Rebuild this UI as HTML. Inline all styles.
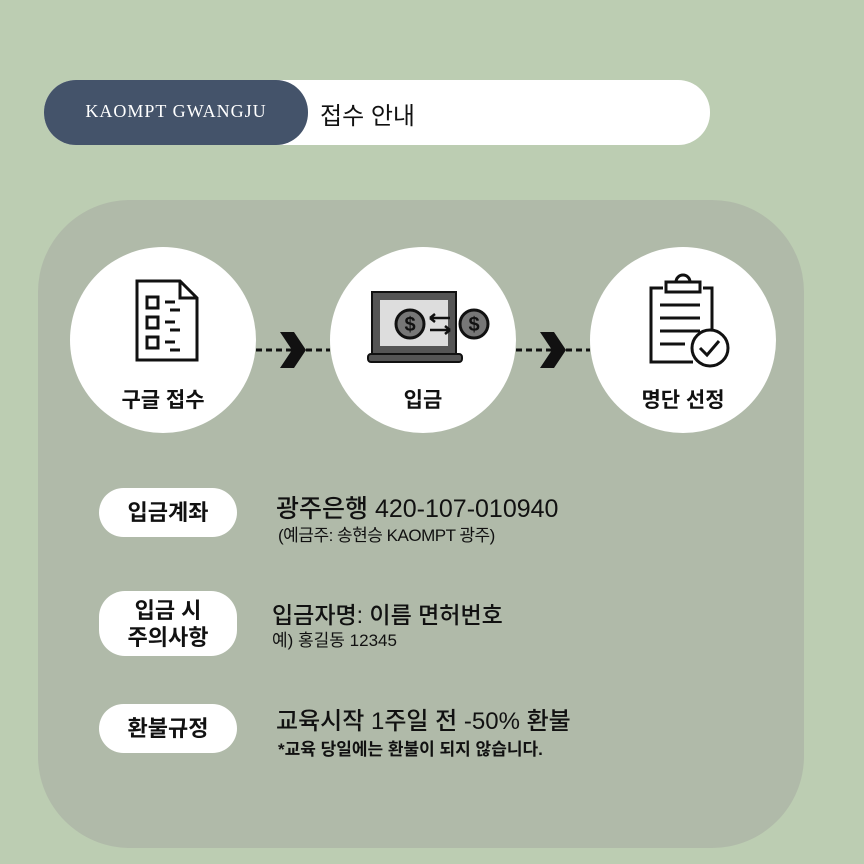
<!DOCTYPE html>
<html><head><meta charset="utf-8"><style>
body{margin:0;width:864px;height:864px;background:#bccdb2;position:relative;overflow:hidden;font-family:"Liberation Sans","Noto Sans CJK KR",sans-serif}
.abs{position:absolute}
.pill{position:absolute;left:99px;width:138px;background:#fff;border-radius:26px;display:flex;align-items:center;justify-content:center;text-align:center;font-size:22px;font-weight:bold;color:#111;line-height:27px}
.circ{position:absolute;width:186px;height:186px;border-radius:50%;background:#fff}
.cl{position:absolute;width:186px;text-align:center;font-size:21px;font-weight:bold;color:#111}
.t1{position:absolute;font-size:23px;color:#111;font-weight:500}
.t2{position:absolute;font-size:17px;color:#111}
</style></head><body>
<div class="abs" style="left:44px;top:80px;width:666px;height:65px;background:#fff;border-radius:32px"></div>
<div class="abs" style="left:44px;top:80px;width:264px;height:65px;background:#44536a;border-radius:32px;color:#fff;font-family:'Liberation Serif',serif;font-size:18px;letter-spacing:1px;line-height:63px;text-align:center">KAOMPT GWANGJU</div>
<div class="abs" style="left:320px;top:96px;font-size:24px;color:#111">접수 안내</div>
<div class="abs" style="left:38px;top:200px;width:766px;height:648px;background:#b0baa9;border-radius:92px"></div>

<div class="circ" style="left:70px;top:247px"></div>
<div class="circ" style="left:330px;top:247px"></div>
<div class="circ" style="left:590px;top:247px"></div>
<svg class="abs" style="left:0;top:0" width="864" height="864">
<g stroke="#111" stroke-width="3" stroke-dasharray="6,4"><line x1="256" y1="350" x2="330" y2="350"/><line x1="516" y1="350" x2="590" y2="350"/></g>
<polygon points="280,332 294,332 306,350 294,368 280,368 292,350" fill="#111"/>
<polygon points="540,332 554,332 566,350 554,368 540,368 552,350" fill="#111"/>
<g fill="none" stroke="#111" stroke-width="3"><path d="M137,281 H180 L197,298 V360 H137 Z"/><path d="M180,281 V298 H197"/>
<rect x="147" y="297" width="11" height="11"/><rect x="147" y="317" width="11" height="11"/><rect x="147" y="337" width="11" height="11"/>
<path d="M165,302h10M165,322h10M165,342h10M170,310h10M170,330h10M170,350h10"/></g>
<rect x="372" y="292" width="84" height="62" fill="#555" stroke="#111" stroke-width="2"/><rect x="380" y="300" width="68" height="46" fill="#ddd"/>
<rect x="368" y="354" width="94" height="8" rx="3" fill="#555" stroke="#111" stroke-width="2"/>
<circle cx="410" cy="324" r="14" fill="#777" stroke="#111" stroke-width="3"/><circle cx="474" cy="324" r="14" fill="#777" stroke="#111" stroke-width="3"/>
<text x="410" y="331" font-size="20" font-weight="bold" text-anchor="middle" fill="#111">$</text><text x="474" y="331" font-size="20" font-weight="bold" text-anchor="middle" fill="#111">$</text>
<path d="M430,318h20M430,318l5,-4M430,318l5,4M430,330h20M450,330l-5,-4M450,330l-5,4" stroke="#111" stroke-width="2.5" fill="none"/>
<g fill="none" stroke="#111" stroke-width="3"><path d="M663,288 H651 V362 H693"/><path d="M703,288 H712 V330"/><rect x="666" y="282" width="34" height="10"/><path d="M676,282 a7,7 0 0 1 14,0"/>
<path d="M660,305h40M660,318h40M660,331h40M660,344h25"/><circle cx="710" cy="348" r="18"/><path d="M700,348l7,7l12,-14"/></g>
</svg>
<div class="cl" style="left:70px;top:384px">구글 접수</div>
<div class="cl" style="left:330px;top:384px">입금</div>
<div class="cl" style="left:590px;top:384px">명단 선정</div>

<div class="pill" style="top:488px;height:49px">입금계좌</div>
<div class="pill" style="top:591px;height:65px">입금 시<br>주의사항</div>
<div class="pill" style="top:704px;height:49px">환불규정</div>
<div class="t1" style="left:276px;top:489px;font-size:25px">광주은행 420-107-010940</div>
<div class="t2" style="left:278px;top:521px;letter-spacing:-0.5px">(예금주: 송현승 KAOMPT 광주)</div>
<div class="t1" style="left:272px;top:596px">입금자명: 이름 면허번호</div>
<div class="t2" style="left:272px;top:626px">예) 홍길동 12345</div>
<div class="t1" style="left:276px;top:701px;font-size:24px">교육시작 1주일 전 -50% 환불</div>
<div class="t2" style="left:278px;top:735px;font-weight:bold">*교육 당일에는 환불이 되지 않습니다.</div>
</body></html>
